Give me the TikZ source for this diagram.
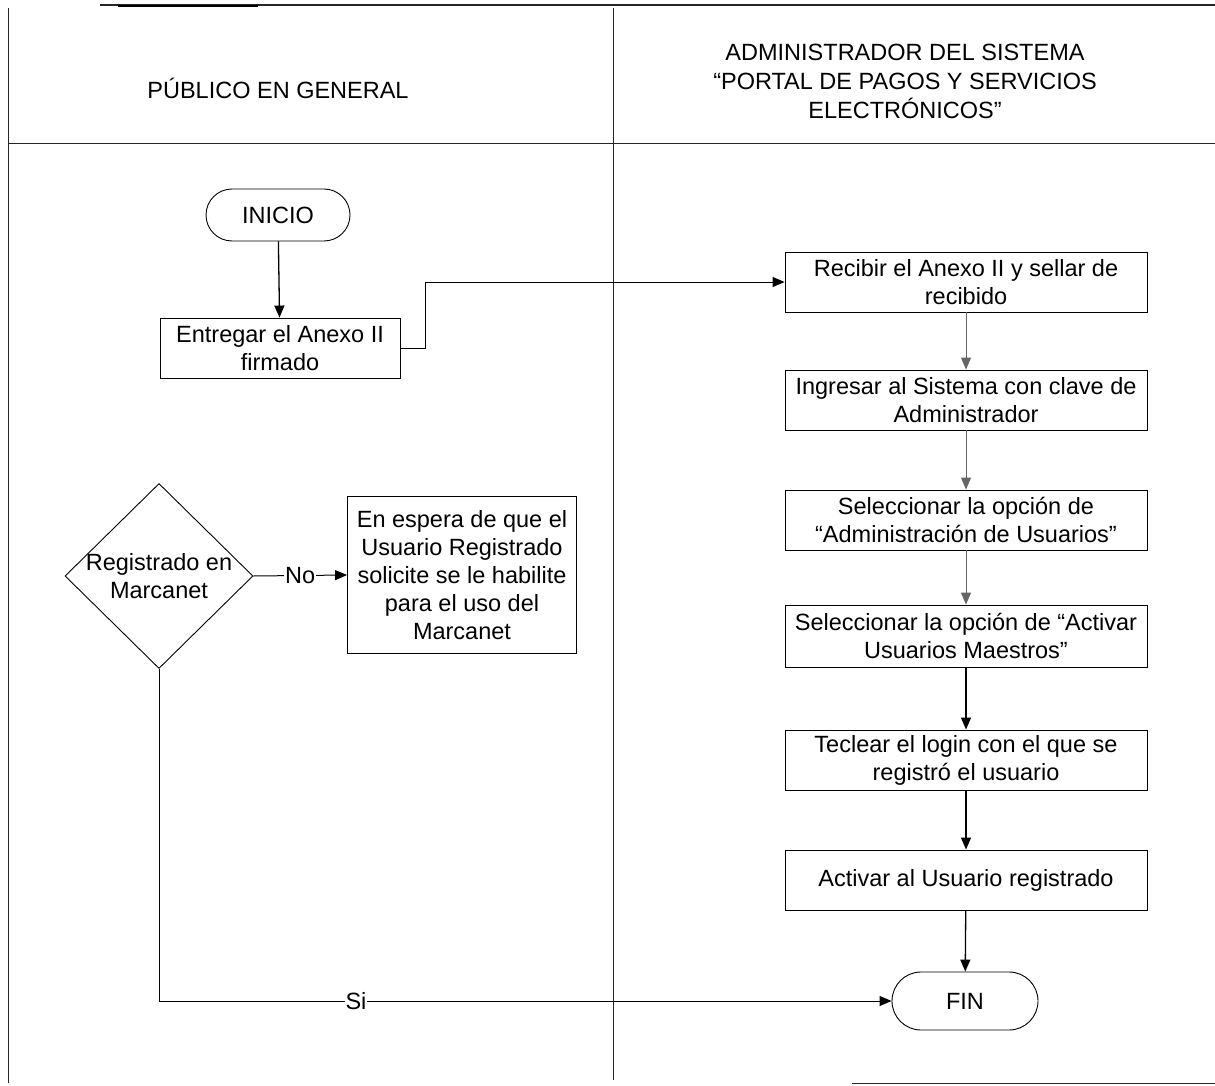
\documentclass[tikz,border=0pt]{standalone}
\usepackage{fontspec}
\setmainfont{Liberation Sans}
\usetikzlibrary{shapes.geometric,shapes.misc,arrows.meta}

\tikzset{
  lane/.style={line width=0.9pt, black!85},
  procbox/.style={draw, line width=0.9pt, align=center, inner sep=1pt,
                  minimum width=362pt, minimum height=60pt},
  termbox/.style={draw, line width=0.9pt, rounded rectangle, inner sep=2pt,
                  minimum width=148pt, minimum height=52pt},
  decbox/.style={draw, line width=0.9pt, diamond, inner sep=0pt,
                 minimum width=188pt, minimum height=185pt},
  flow/.style={line width=1.3pt, -{Triangle[length=12pt,width=10pt]}},
  flowgray/.style={flow, line width=1pt, black!60},
  lbl/.style={fill=white, inner sep=1pt}
}

\begin{document}
\begin{tikzpicture}[x=1pt, y=-1pt, font=\fontsize{23.5}{28}\selectfont]
\useasboundingbox (0,0) rectangle (1215,1086);

% swimlane frame
\draw[lane, line width=1.2pt] (100,5) -- (1215,5);
\draw[line width=2.2pt] (118,6) -- (258,6);
\draw[lane] (8,8) -- (8,1083);
\draw[lane] (8,143) -- (1215,143);
\draw[lane] (613,8) -- (613,1080);
\draw[lane] (852,1083) -- (1215,1083);

% lane titles
\node (h1) at (278,88) {PÚBLICO EN GENERAL};
\node[align=center, font=\fontsize{23.5}{29}\selectfont] (h2) at (905,81)
  {ADMINISTRADOR DEL SISTEMA\\“PORTAL DE PAGOS Y SERVICIOS\\ELECTRÓNICOS”};

% left lane
\node[termbox] (ini) at (278,215) {INICIO};
\node[procbox, minimum width=240pt] (ent) at (280,348) {Entregar el Anexo II\\firmado};
\node[decbox] (dec) at (159,576) {};
\node[align=center] (dect) at (159,576) {Registrado en\\Marcanet};
\node[draw, line width=0.9pt, align=center, inner sep=1pt,
      minimum width=229pt, minimum height=157pt] (esp) at (462,575)
  {En espera de que el\\Usuario Registrado\\solicite se le habilite\\para el uso del\\Marcanet};

% right lane
\node[procbox] (rec) at (966,282) {Recibir el Anexo II y sellar de\\recibido};
\node[procbox] (ing) at (966,400) {Ingresar al Sistema con clave de\\Administrador};
\node[procbox] (sel1) at (966,520) {Seleccionar la opción de\\“Administración de Usuarios”};
\node[procbox, minimum height=62pt] (sel2) at (966,636) {Seleccionar la opción de “Activar\\Usuarios Maestros”};
\node[procbox] (tec) at (966,760) {Teclear el login con el que se\\registró el usuario};
\node[procbox] (act) at (966,880) {Activar al Usuario registrado};
\node[termbox, minimum width=150pt, minimum height=58pt] (fin) at (965,1001) {FIN};

% connectors
\draw[flow] (ini) -- (ent);
\draw[flow, line width=1pt] (ent.east) -- ++(25,0) |- (rec.west);
\draw[flowgray] (rec) -- (ing);
\draw[flowgray] (ing) -- (sel1);
\draw[flowgray] (sel1) -- (sel2);
\draw[flow] (sel2) -- (tec);
\draw[flow] (tec) -- (act);
\draw[flow] (act) -- (fin);
\draw[flow, line width=1pt] (dec.east) -- (esp.west) node[lbl, midway] {No};
\draw[flow, line width=1pt] (dec.south) |- (fin.west);
\node[lbl] (si) at (356,1001) {Si};
\end{tikzpicture}
\end{document}
